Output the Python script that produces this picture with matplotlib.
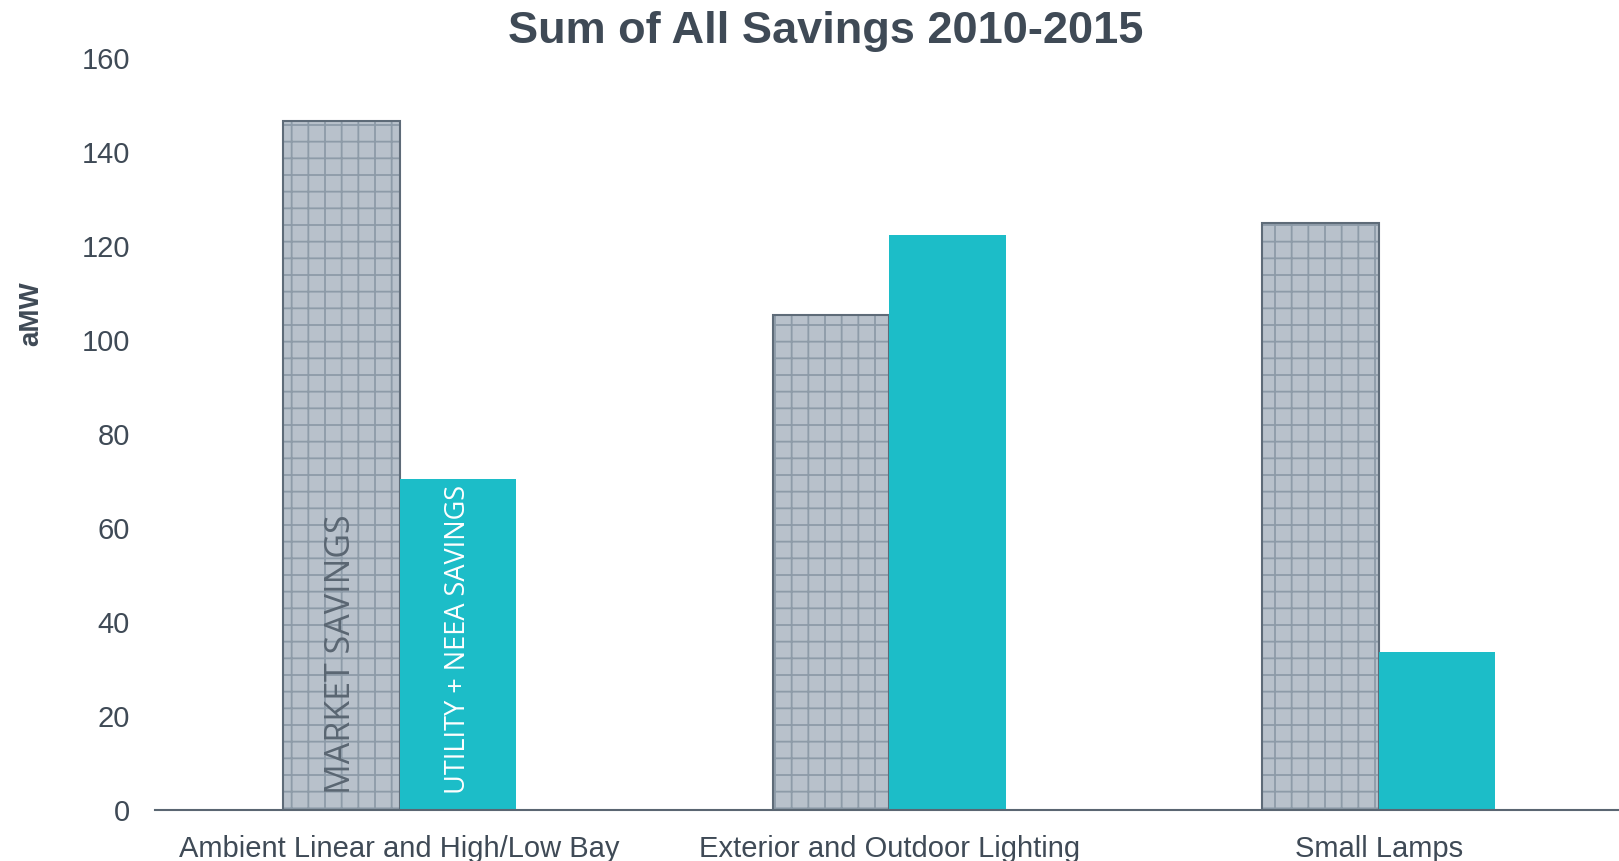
import numpy as np
import matplotlib
matplotlib.use("Agg")
from matplotlib import pyplot as plt

categories = ["Ambient Linear and High/Low Bay", "Exterior and Outdoor Lighting", "Small Lamps"]
market = [146.5, 105.3, 124.8]
utility = [70.5, 122.4, 33.7]
yticks = [0, 20, 40, 60, 80, 100, 120, 140, 160]

plt.rcParams['font.family'] = ['Liberation Sans', 'DejaVu Sans']
plt.rcParams['hatch.linewidth'] = 1.3

txt = '#3F4A56'
fig = plt.figure(figsize=(16.19, 8.61), dpi=100)
ax = fig.add_axes([0.0957, 0.0592, 0.907, 0.8734])

x = np.arange(len(categories))
w = 0.238
# hatched fill (hatch takes the edge colour), then the dark outline on top
ax.bar(x - w / 2, market, w, color='#B8C1CB', edgecolor='#8D9BA8', linewidth=0, hatch='+')
ax.bar(x - w / 2, market, w, fill=False, edgecolor='#5E6B78', linewidth=1.5)
ax.bar(x + w / 2, utility, w, color='#1CBDC8', linewidth=0)

ax.set_xlim(-0.5, 2.5)
ax.set_ylim(0, 160)
ax.set_yticks(yticks)
ax.set_xticks(x)
ax.set_xticklabels(categories)
ax.tick_params(length=0, labelsize=21, labelcolor=txt)
ax.tick_params(axis='y', pad=18)
ax.tick_params(axis='x', pad=18)
for s in ['top', 'right', 'left']:
    ax.spines[s].set_visible(False)
ax.spines['bottom'].set_color('#5A6672')
ax.spines['bottom'].set_linewidth(1.5)

# series labels inside first group
ax.text(x[0] - w / 2, 3.5, 'MARKET SAVINGS', rotation=90, ha='center', va='bottom',
        fontsize=24.5, color='#5A6672', family=['Open Sans', 'DejaVu Sans'])
ax.text(x[0] + w / 2, 3.5, 'UTILITY + NEEA SAVINGS', rotation=90, ha='center', va='bottom',
        fontsize=19.5, color='white', family=['Open Sans', 'DejaVu Sans'])

fig.text(0.51, 0.963, 'Sum of All Savings 2010-2015', ha='center', va='center',
         fontsize=32.5, fontweight='bold', color=txt)
fig.text(0.019, 0.636, 'aMW', rotation=90, ha='center', va='center',
         fontsize=20, fontweight='bold', color=txt)

fig.savefig('out.png', dpi=100)
